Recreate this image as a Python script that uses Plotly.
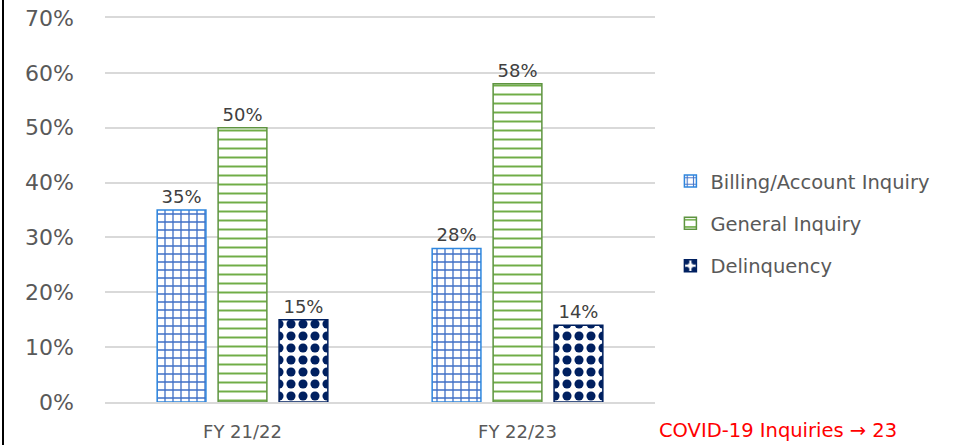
import plotly.graph_objects as go

categories = ["FY 21/22", "FY 22/23"]
series_names = ["Billing/Account Inquiry", "General Inquiry", "Delinquency"]
billing = [0.35, 0.28]
general = [0.50, 0.58]
delinquency = [0.15, 0.14]
y_ticks = [0, 0.1, 0.2, 0.3, 0.4, 0.5, 0.6, 0.7]
y_tick_labels = ["0%", "10%", "20%", "30%", "40%", "50%", "60%", "70%"]
note_text = "COVID-19 Inquiries \u2192 23"

FONT = "DejaVu Sans"
values = [billing, general, delinquency]
styles = [
    dict(shape="+", fg="#3F6FC6", line="#2E86DE", size=8, sol=0.3),
    dict(shape="-", fg="#70AD47", line="#5E9440", size=9, sol=0.22),
    dict(shape=".", fg="#002060", line="#002060", size=12, sol=0.45),
]

fig = go.Figure()
for name, vals, st in zip(series_names, values, styles):
    fig.add_trace(go.Bar(
        name=name, x=categories, y=vals,
        text=[f"{round(v*100)}%" for v in vals],
        textposition="outside", cliponaxis=False,
        textfont=dict(family=FONT, size=18, color="#404040"),
        marker=dict(color="white",
                    line=dict(color=st["line"], width=1.5),
                    pattern=dict(shape=st["shape"], fgcolor=st["fg"], bgcolor="white",
                                 size=st["size"], solidity=st["sol"], fgopacity=1)),
        legendgroup=name,
    ))

fig.update_layout(
    width=959, height=445,
    margin=dict(l=105, r=304, t=18, b=43, autoexpand=False),
    plot_bgcolor="white", paper_bgcolor="white",
    barmode="group", bargap=0.335, bargroupgap=0.2,
    font=dict(family=FONT, color="#595959"),
    legend=dict(x=1.028, xanchor="left", y=0.464, yanchor="middle",
                font=dict(family=FONT, size=19.5, color="#595959"), tracegroupgap=14,
                bgcolor="rgba(0,0,0,0)"),
    showlegend=True,
)
fig.update_yaxes(range=[0, 0.7], tickvals=y_ticks, ticktext=y_tick_labels,
                 tickfont=dict(family=FONT, size=22, color="#595959"), showgrid=True,
                 gridcolor="#D9D9D9", gridwidth=1.5, zeroline=False, showline=False,
                 ticklabelstandoff=30, automargin=False)
fig.update_xaxes(tickfont=dict(family=FONT, size=18, color="#595959"),
                 showline=True, mirror=True, linecolor="#D9D9D9", linewidth=1.5,
                 ticklabelstandoff=13, automargin=False)

fig.add_annotation(text=note_text, xref="paper", yref="paper",
                   x=(657 - 105) / 550, y=(402 - 430) / 384, xanchor="left", yanchor="middle",
                   showarrow=False, font=dict(family=FONT, size=19.5, color="#FF0000"))
fig.add_shape(type="line", xref="paper", yref="paper",
              x0=(3 - 105) / 550, x1=(3 - 105) / 550,
              y0=(402 - 0) / 384, y1=(402 - 445) / 384,
              line=dict(color="black", width=2))

fig.write_html("out.html")
